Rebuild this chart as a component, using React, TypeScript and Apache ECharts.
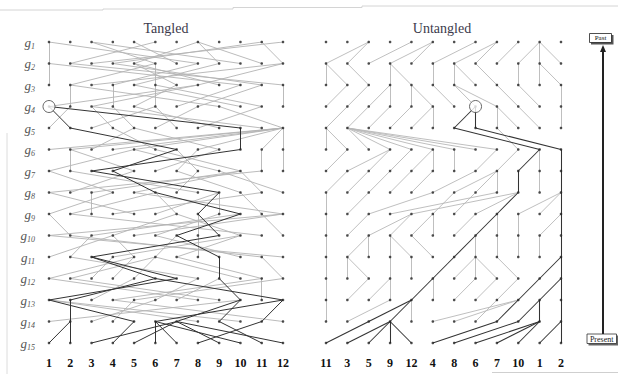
import React, { useEffect, useRef } from 'react';
import * as echarts from 'echarts';

// column (individual) labels of the present generation
const LEFT_LABELS = ['1', '2', '3', '4', '5', '6', '7', '8', '9', '10', '11', '12'];
const RIGHT_LABELS = ['11', '3', '5', '9', '12', '4', '8', '6', '7', '10', '1', '2'];
const GENERATIONS = ['1', '2', '3', '4', '5', '6', '7', '8', '9', '10', '11', '12', '13', '14', '15'];

// parent (column in previous generation, untangled order) of each individual, g2..g15
const P2 = [2, 2, 4, 5, 5, 7, 8, 8, 9, 10, 10, 10];
const P3 = [0, 0, 1, 3, 3, 5, 6, 6, 7, 9, 10, 10];
const P4 = [1, 2, 3, 3, 4, 4, 5, 6, 6, 8, 9, 11];
const P5 = [1, 2, 3, 4, 5, 5, 7, 7, 8, 8, 9, 11];
const P6 = [0, 0, 1, 1, 1, 1, 1, 1, 1, 8, 6, 7];
const P7 = [1, 3, 3, 4, 5, 5, 6, 8, 9, 10, 10, 11];
const P8 = [1, 2, 3, 4, 5, 7, 8, 8, 8, 9, 10, 11];
const P9 = [0, 2, 5, 8, 9, 6, 7, 9, 9, 11, 11, 11];
const P10 = [0, 2, 4, 4, 5, 5, 7, 8, 8, 9, 11, 11];
const P11 = [0, 2, 2, 3, 3, 4, 7, 7, 8, 9, 10, 11];
const P12 = [0, 1, 1, 3, 4, 6, 7, 7, 7, 8, 11, 11];
const P13 = [0, 2, 3, 3, 5, 5, 7, 8, 9, 10, 11, 11];
const P14 = [0, 3, 4, 4, 4, 9, 9, 8, 9, 10, 10, 11];
const P15 = [2, 3, 3, 3, 3, 8, 9, 10, 10, 10, 11, 11];
const PARENTS: (number[] | null)[] = [null, P2, P3, P4, P5, P6, P7, P8, P9, P10, P11, P12, P13, P14, P15];

// column of each individual in the tangled (original) order, g1..g15
const T1 = [3, 8, 0, 6, 11, 2, 9, 5, 10, 4, 7, 1];
const T2 = [0, 7, 2, 5, 9, 1, 11, 3, 6, 8, 4, 10];
const T3 = [0, 9, 3, 1, 5, 11, 7, 2, 10, 4, 8, 6];
const T4 = [6, 3, 8, 1, 10, 5, 11, 0, 2, 7, 9, 4];
const T5 = [4, 11, 0, 7, 2, 6, 1, 9, 3, 10, 5, 8];
const T6 = [2, 8, 0, 4, 10, 1, 11, 3, 7, 5, 6, 9];
const T7 = [5, 0, 8, 10, 1, 4, 11, 6, 9, 3, 7, 2];
const T8 = [3, 11, 0, 7, 1, 9, 4, 10, 2, 5, 6, 8];
const T9 = [0, 4, 10, 2, 6, 11, 3, 1, 9, 8, 5, 7];
const T10 = [1, 11, 3, 9, 0, 4, 10, 6, 2, 5, 7, 8];
const T11 = [10, 4, 0, 6, 3, 11, 8, 5, 1, 9, 7, 2];
const T12 = [11, 3, 0, 10, 2, 8, 9, 4, 1, 7, 6, 5];
const T13 = [4, 7, 10, 3, 9, 6, 2, 8, 5, 0, 11, 1];
const T14 = [3, 11, 8, 6, 0, 7, 9, 2, 4, 10, 5, 1];
const T15 = [10, 2, 4, 8, 11, 3, 7, 5, 6, 9, 0, 1];
const TANGLED = [T1, T2, T3, T4, T5, T6, T7, T8, T9, T10, T11, T12, T13, T14, T15];

// most recent common ancestor (generation index, untangled column)
const MRCA_ROW = 3;
const MRCA_COL = 7;

const N = 12;
const G = 15;

function buildData() {
  // ancestors of the present generation
  const anc: boolean[][] = [];
  for (let r = 0; r < G; r++) anc.push(new Array(N).fill(r === G - 1));
  for (let r = G - 1; r >= 1; r--) {
    const p = PARENTS[r] as number[];
    for (let c = 0; c < N; c++) if (anc[r][c]) anc[r - 1][p[c]] = true;
  }
  const grayU: number[][][] = [];
  const blackU: number[][][] = [];
  const grayT: number[][][] = [];
  const blackT: number[][][] = [];
  for (let r = 1; r < G; r++) {
    const p = PARENTS[r] as number[];
    for (let c = 0; c < N; c++) {
      const isBlack = anc[r][c] && r > MRCA_ROW;
      const u = [[c, r], [p[c], r - 1]];
      const t = [[TANGLED[r][c], r], [TANGLED[r - 1][p[c]], r - 1]];
      (isBlack ? blackU : grayU).push(u);
      (isBlack ? blackT : grayT).push(t);
    }
  }
  const dots: number[][] = [];
  for (let r = 0; r < G; r++) for (let c = 0; c < N; c++) dots.push([c, r]);
  return { grayU, blackU, grayT, blackT, dots };
}

const SERIF = 'Liberation Serif, DejaVu Serif, serif';

export default function App() {
  const ref = useRef<HTMLDivElement>(null);
  useEffect(() => {
    if (!ref.current) return;
    const chart = echarts.init(ref.current, undefined, { renderer: 'svg' });
    const { grayU, blackU, grayT, blackT, dots } = buildData();

    const hidden = { axisLine: { show: false }, axisTick: { show: false }, splitLine: { show: false } };
    const xLabel = (labels: string[]) => ({
      formatter: (v: number) => labels[v] ?? '',
      margin: 14,
      fontFamily: SERIF,
      fontWeight: 'bold' as const,
      fontSize: 12,
      color: '#111',
    });

    const lineSeries = (idx: number, data: number[][][], color: string, width: number, z: number) => ({
      type: 'lines',
      coordinateSystem: 'cartesian2d',
      xAxisIndex: idx,
      yAxisIndex: idx,
      silent: true,
      z,
      lineStyle: { color, width, opacity: 1, curveness: 0 },
      data: data.map((c) => ({ coords: c })),
    });
    const dotSeries = (idx: number) => ({
      type: 'scatter',
      xAxisIndex: idx,
      yAxisIndex: idx,
      silent: true,
      z: 6,
      symbol: 'circle',
      symbolSize: 2.6,
      itemStyle: { color: '#222' },
      data: dots,
    });

    const option: any = {
      animation: false,
      backgroundColor: '#ffffff',
      grid: [
        { left: 49, top: 42, width: 234, height: 301 },
        { left: 326, top: 42, width: 235, height: 301 },
      ],
      xAxis: [
        { gridIndex: 0, type: 'value', min: 0, max: 11, interval: 1, ...hidden, axisLabel: xLabel(LEFT_LABELS) },
        { gridIndex: 1, type: 'value', min: 0, max: 11, interval: 1, ...hidden, axisLabel: xLabel(RIGHT_LABELS) },
      ],
      yAxis: [
        {
          gridIndex: 0, type: 'value', min: 0, max: 14, interval: 1, inverse: true, ...hidden,
          axisLabel: {
            margin: 14,
            formatter: (v: number) => `{g|g}{s|${GENERATIONS[v] ?? ''}}`,
            rich: {
              g: { fontFamily: SERIF, fontStyle: 'italic', fontSize: 13, color: '#555', lineHeight: 16, verticalAlign: 'middle' },
              s: { fontFamily: SERIF, fontStyle: 'italic', fontSize: 8, color: '#555', lineHeight: 9, padding: [8, 0, 0, 0], verticalAlign: 'bottom' },
            },
          },
        },
        { gridIndex: 1, type: 'value', min: 0, max: 14, interval: 1, inverse: true, ...hidden, axisLabel: { show: false } },
      ],
      series: [
        lineSeries(0, grayT, '#b3b3b3', 0.9, 2),
        lineSeries(0, blackT, '#333333', 1.0, 3),
        lineSeries(1, grayU, '#b8b8b8', 0.9, 2),
        lineSeries(1, blackU, '#333333', 1.05, 3),
        dotSeries(0),
        dotSeries(1),
        {
          type: 'scatter', xAxisIndex: 0, yAxisIndex: 0, silent: true, z: 8,
          symbol: 'circle', symbolSize: 12,
          itemStyle: { color: '#fff', borderColor: '#444', borderWidth: 1 },
          data: [[TANGLED[MRCA_ROW][MRCA_COL], MRCA_ROW]],
        },
        {
          type: 'scatter', xAxisIndex: 1, yAxisIndex: 1, silent: true, z: 8,
          symbol: 'circle', symbolSize: 12,
          itemStyle: { color: '#fff', borderColor: '#444', borderWidth: 1 },
          data: [[MRCA_COL, MRCA_ROW]],
        },
      ],
      graphic: [
        // faint scan edges
        { type: 'polyline', silent: true, shape: { points: [[0, 10], [103, 10], [103, 9], [233, 9], [233, 7.5], [362, 7.5], [362, 6], [618, 6]] }, style: { stroke: '#d4d4d4', lineWidth: 1, fill: 'none' } },
        { type: 'line', silent: true, shape: { x1: 7, y1: 133, x2: 7, y2: 374 }, style: { stroke: '#dcdcdc', lineWidth: 1 } },
        { type: 'line', silent: true, shape: { x1: 492, y1: 372.5, x2: 618, y2: 372.5 }, style: { stroke: '#cfcfcf', lineWidth: 1 } },
        // titles
        { type: 'text', x: 166, y: 28, style: { text: 'Tangled', font: `14px ${SERIF}`, fill: '#3c3a4c', textAlign: 'center', textVerticalAlign: 'middle' } },
        { type: 'text', x: 442, y: 28, style: { text: 'Untangled', font: `14px ${SERIF}`, fill: '#3c3a4c', textAlign: 'center', textVerticalAlign: 'middle' } },
        // time arrow
        { type: 'line', silent: true, shape: { x1: 603, y1: 50, x2: 603, y2: 334 }, style: { stroke: '#222', lineWidth: 2 } },
        { type: 'polygon', silent: true, shape: { points: [[603, 45], [600, 52], [606, 52]] }, style: { fill: '#222' } },
        { type: 'rect', silent: true, shape: { x: 591, y: 35, width: 22.5, height: 9.5 }, style: { fill: '#555' } },
        { type: 'rect', silent: true, shape: { x: 589.5, y: 33.5, width: 22, height: 9 }, style: { fill: '#fff', stroke: '#222', lineWidth: 0.8 } },
        { type: 'text', x: 600.5, y: 38.3, style: { text: 'Past', font: `7px ${SERIF}`, fill: '#111', textAlign: 'center', textVerticalAlign: 'middle' } },
        { type: 'rect', silent: true, shape: { x: 588.5, y: 335.5, width: 30, height: 10 }, style: { fill: '#666' } },
        { type: 'rect', silent: true, shape: { x: 587, y: 334, width: 29.5, height: 9.5 }, style: { fill: '#fff', stroke: '#333', lineWidth: 0.8 } },
        { type: 'text', x: 601.7, y: 339, style: { text: 'Present', font: `8px ${SERIF}`, fill: '#222', textAlign: 'center', textVerticalAlign: 'middle' } },
      ],
    };
    chart.setOption(option);
    return () => chart.dispose();
  }, []);
  return <div ref={ref} style={{ position: 'fixed', left: 0, top: 0, width: 618, height: 374 }} />;
}
